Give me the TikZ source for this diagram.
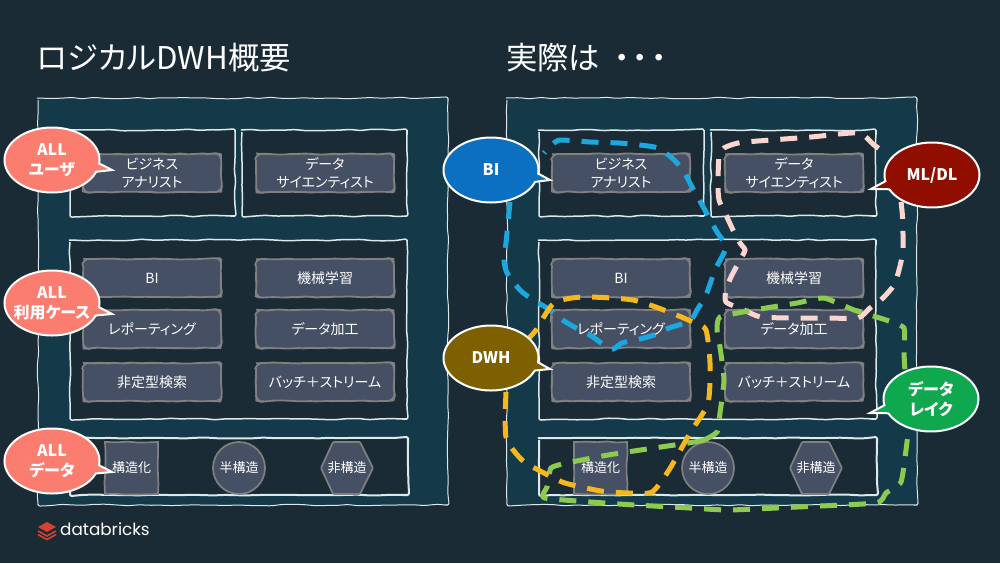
\documentclass[tikz,border=0pt]{standalone}
\usepackage{fontspec}
\setmainfont{Noto Sans CJK JP}[RawFeature=+palt]
\newfontfamily\logofont{Poppins}
\usetikzlibrary{decorations.pathmorphing,shapes.callouts}
\definecolor{slidebg}{HTML}{1B2B36}
\definecolor{panelbg}{HTML}{143A4A}
\definecolor{linewhite}{HTML}{DCE8EA}
\definecolor{pillbg}{HTML}{465064}
\definecolor{pillline}{HTML}{808080}
\definecolor{callsalmon}{HTML}{FA7D6F}
\definecolor{callblue}{HTML}{0B6FC2}
\definecolor{callred}{HTML}{8F0E00}
\definecolor{callbrown}{HTML}{7F6000}
\definecolor{callgreen}{HTML}{0FA84E}
\definecolor{dashblue}{HTML}{1BA8E0}
\definecolor{dashpink}{HTML}{FBD5D0}
\definecolor{dashgreen}{HTML}{8CCB50}
\definecolor{dashyellow}{HTML}{F5B81C}
\definecolor{logored}{HTML}{D8402F}
\tikzset{
  wobble/.style={decorate,rounded corners=2pt,decoration={random steps,segment length=11pt,amplitude=.8pt}},
  framebox/.style={draw=linewhite,line width=1.5pt,fill=slidebg,wobble},
  pillbox/.style={draw=pillline,line width=1.7pt,fill=pillbg,decorate,rounded corners=6pt,
    decoration={random steps,segment length=6pt,amplitude=.6pt}},
  pilltext/.style={text=white,font=\fontsize{14}{18}\selectfont,align=center,inner sep=0pt},
  datashape/.style={draw=pillline,line width=1.7pt,fill=pillbg},
  datatext/.style={text=white,font=\fontsize{13}{16}\selectfont,inner sep=0pt},
  bubble/.style={ellipse callout,draw=white,line width=2pt,text=white,align=center,inner sep=0pt,
    font=\bfseries\fontsize{16}{20}\selectfont,minimum width=95pt,minimum height=65pt},
  region/.style={line width=5pt,dash pattern=on 17pt off 12pt},
}
\begin{document}
\begin{tikzpicture}[x=1pt,y=-1pt]
  \useasboundingbox (0,0) rectangle (1000,563);
  \fill[slidebg] (0,0) rectangle (1000,563);
  \pgfmathsetseed{7}

  \node[text=white,font=\fontsize{31.3}{36}\selectfont,anchor=west,inner sep=0pt] (titleL) at (37,58) {ロジカルDWH概要};
  \node[text=white,font=\fontsize{31.3}{36}\selectfont,anchor=west,inner sep=0pt] (titleR) at (506,58) {実際は\ \ ・\kern3pt・\kern3pt・};

  \foreach \p/\dx in {L/0,R/469}{
    \begin{scope}[xshift=\dx pt]
      \draw[framebox,line width=1pt,fill=panelbg] (38,98) rectangle (448,505);
      \draw[framebox] (70,130) rectangle (235,216);
      \draw[framebox] (242,130) rectangle (407,216);
      \draw[framebox] (70,240) rectangle (407,419);
      \draw[framebox,line width=2pt,decoration={amplitude=.4pt}] (70,438) rectangle (408,495);

      \foreach \nm/\cx/\cy/\lbl in {
        analyst/152/173/{ビジネス\\アナリスト},
        scientist/325/173/{データ\\サイエンティスト},
        bi/152/278/{BI},
        ml/325/278/{機械学習},
        report/152/329/{レポーティング},
        etl/325/329/{データ加工},
        search/152/382/{非定型検索},
        stream/325/382/{バッチ＋ストリーム}}{
        \draw[pillbox] (\cx,\cy) ++(-69,-19) rectangle ++(138,38);
        \node[pilltext] (\nm\p) at (\cx,\cy) {\lbl};
      }

      \draw[datashape,decorate,decoration={random steps,segment length=10pt,amplitude=.6pt}] (105,442) rectangle (158,494);
      \node[datatext] (structured\p) at (131.5,468) {構造化};
      \node[circle,datashape,datatext,minimum size=52pt] (semi\p) at (239,468) {半構造};
      \draw[datashape,rounded corners=1pt] (333,442) -- (360,442) -- (373,468) -- (360,494) -- (333,494) -- (321,468) -- cycle;
      \node[datatext] (unstructured\p) at (347,468) {非構造};
    \end{scope}
  }

  % regions on the right
  \draw[region,dashblue] plot[smooth,tension=.4] coordinates {(510,202) (506,243) (504,260) (507,273) (520,290) (533,300) (547,308)
    (561,319) (576,328) (590,335) (604,345) (613,349) (622,343) (636,340) (654,335) (669,328) (690,321) (697,310) (706,295)
    (715,270) (726,247) (717,232) (701,203) (692,187) (683,170) (672,158) (658,148) (640,145) (619,143) (590,142) (561,140)
    (554,143) (544,153)};
  \draw[region,dashpink] plot[smooth,tension=.4] coordinates {(901,202) (902.5,217) (903,250) (899,270) (894,285) (883,298) (870,308)
    (858,318) (829,318) (797,318) (761,317) (744,310) (726,302) (726,290) (731,277) (740,260) (745,250) (740,243) (733,230)
    (726,215) (719,200) (718,183) (719,157) (724,148) (738,143) (758,141) (811,137) (858,133) (874,145) (888,155)};
  \draw[region,dashgreen] plot[smooth cycle,tension=.3] coordinates {(717,432) (704,440) (688,443) (654,448) (608,455) (567,463) (551,468)
    (547,487) (545,498) (619,504) (690,508) (729,510) (797,507) (876,503) (886,493) (901,482) (906,450) (908,430) (906,390)
    (904,353) (904,328) (886,320) (854,310) (824,298) (797,303) (754,310) (720,317) (717,330) (720,347) (724,380) (720,413)};
  \draw[region,dashyellow] plot[smooth,tension=.4] coordinates {(506,392) (506,437) (522,460) (544,473) (565,483) (601,491) (629,493)
    (652,492) (669,470) (690,433) (708,403) (710,363) (706,330) (695,323) (669,312) (633,300) (583,297) (554,303) (536,330) (529,338)};

  % callouts
  \node[bubble,fill=callsalmon,callout absolute pointer={(112,170)}] (allUsers) at (52,160) {ALL\\ユーザ};
  \node[bubble,fill=callsalmon,inner xsep=-16pt,callout absolute pointer={(112,314)}] (allCases) at (52,303) {ALL\\利用ケース};
  \node[bubble,fill=callsalmon,callout absolute pointer={(112,472)}] (allData) at (52,461) {ALL\\データ};
  \node[bubble,fill=callblue,callout absolute pointer={(550,180)}] (callBI) at (491,170) {BI};
  \node[bubble,fill=callred,callout absolute pointer={(871,189)}] (callML) at (932,175) {ML/DL};
  \node[bubble,fill=callbrown,callout absolute pointer={(550,369)}] (callDWH) at (491,358) {DWH};
  \node[bubble,fill=callgreen,callout absolute pointer={(870,413)}] (callLake) at (931,399) {データ\\レイク};

  % logo
  \fill[logored] (47,522) -- (56,527) -- (47,532) -- (38,527) -- cycle;
  \draw[logored,line width=1.6pt] (38,531) -- (47,536) -- (56,531);
  \draw[logored,line width=1.6pt] (38,534.5) -- (47,539.5) -- (56,534.5);
  \node[text=white,font=\logofont\fontsize{16.8}{20}\selectfont,anchor=west,inner sep=0pt] (logoText) at (60,529) {databricks};
\end{tikzpicture}
\end{document}
